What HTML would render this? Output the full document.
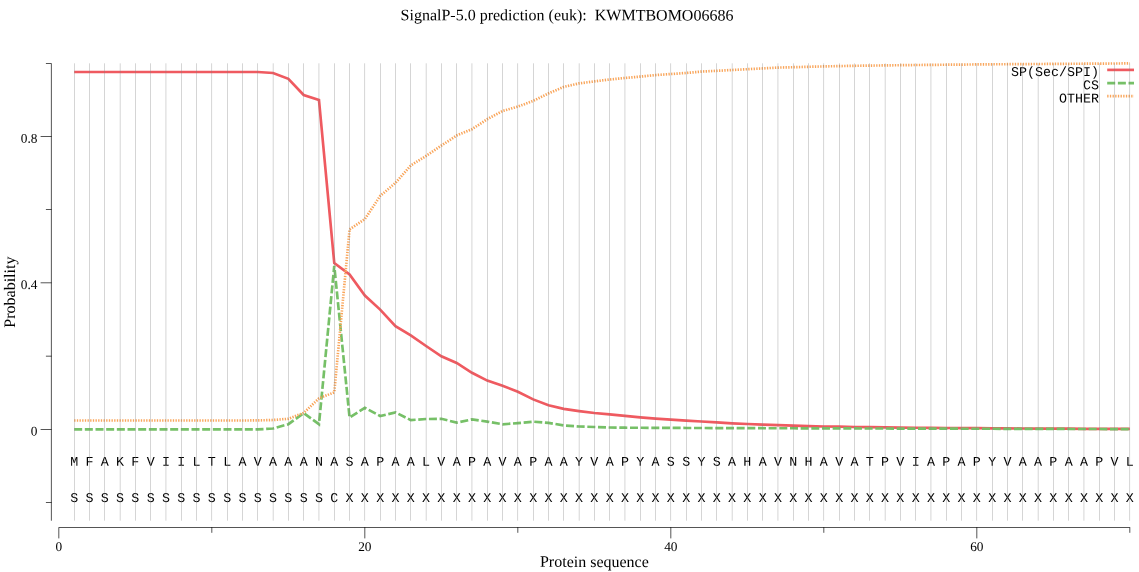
<!DOCTYPE html>
<html lang="en">
<head>
<meta charset="utf-8">
<title>SignalP-5.0 prediction (euk): KWMTBOMO06686</title>
<style>
html,body{margin:0;padding:0;background:#fff;}
body{width:1139px;height:572px;overflow:hidden;}
svg{display:block;will-change:transform;text-rendering:geometricPrecision;}
.serif{font-family:"Liberation Serif","Times New Roman",serif;fill:#000;}
.mono{font-family:"Liberation Mono","Courier New",monospace;fill:#000;}
</style>
</head>
<body>
<svg xmlns="http://www.w3.org/2000/svg" width="1139" height="572" viewBox="0 0 1139 572">
<rect x="0" y="0" width="1139" height="572" fill="#ffffff"/>
<g class="serif" font-size="16" text-anchor="middle" transform="matrix(1,0.0005,0,1,0,0)"><text x="567.00" y="20.067" xml:space="preserve">SignalP-5.0 prediction (euk):  KWMTBOMO06686</text></g>
<g fill="none" stroke-width="2.667" stroke-linejoin="miter" stroke-miterlimit="4">
<path stroke="#ef5a60" d="M74.17,72.00 L89.47,72.00 L104.77,72.00 L120.07,72.00 L135.37,72.00 L150.67,72.00 L165.97,72.00 L181.27,72.00 L196.57,72.00 L211.87,72.00 L227.17,72.00 L242.47,72.00 L257.77,72.00 L273.07,73.00 L288.37,78.80 L303.67,95.00 L318.97,100.00 L334.27,263.10 L349.57,274.50 L364.87,295.50 L380.17,309.60 L395.47,326.10 L410.77,335.30 L426.07,346.00 L441.37,356.30 L456.67,363.00 L471.97,372.80 L487.27,380.60 L502.57,385.70 L517.87,391.80 L533.17,399.40 L548.47,405.20 L563.77,408.90 L579.07,411.10 L594.37,413.00 L609.67,414.30 L624.97,415.90 L640.27,417.40 L655.57,418.60 L670.87,419.60 L686.17,420.60 L701.47,421.50 L716.77,422.30 L732.07,423.30 L747.37,424.00 L762.67,424.70 L777.97,425.20 L793.27,425.70 L808.57,426.20 L823.87,426.50 L839.17,426.70 L854.47,427.00 L869.77,427.20 L885.07,427.40 L900.37,427.60 L915.67,427.75 L930.97,427.90 L946.27,428.00 L961.57,428.10 L976.87,428.20 L992.17,428.30 L1007.47,428.40 L1022.77,428.50 L1038.07,428.60 L1053.37,428.65 L1068.67,428.70 L1083.97,428.80 L1099.27,428.85 L1114.57,428.90 L1129.87,428.95"/>
<path stroke="#76c067" stroke-dasharray="8,2.667" d="M74.17,429.40 L89.47,429.40 L104.77,429.40 L120.07,429.40 L135.37,429.40 L150.67,429.40 L165.97,429.40 L181.27,429.40 L196.57,429.40 L211.87,429.40 L227.17,429.40 L242.47,429.40 L257.77,429.40 L273.07,428.50 L288.37,424.20 L303.67,413.10 L318.97,424.20 L334.27,265.90 L349.57,417.60 L364.87,407.80 L380.17,416.00 L395.47,412.40 L410.77,420.10 L426.07,419.00 L441.37,418.80 L456.67,422.60 L471.97,419.40 L487.27,421.60 L502.57,424.30 L517.87,423.10 L533.17,421.70 L548.47,422.90 L563.77,425.40 L579.07,426.50 L594.37,427.00 L609.67,427.50 L624.97,427.70 L640.27,427.79 L655.57,427.85 L670.87,427.91 L686.17,427.96 L701.47,428.01 L716.77,428.06 L732.07,428.10 L747.37,428.15 L762.67,428.20 L777.97,428.24 L793.27,428.28 L808.57,428.32 L823.87,428.36 L839.17,428.41 L854.47,428.45 L869.77,428.48 L885.07,428.52 L900.37,428.56 L915.67,428.60 L930.97,428.64 L946.27,428.68 L961.57,428.71 L976.87,428.75 L992.17,428.79 L1007.47,428.82 L1022.77,428.86 L1038.07,428.89 L1053.37,428.93 L1068.67,428.96 L1083.97,429.00 L1099.27,429.03 L1114.57,429.07 L1129.87,429.10"/>
<path stroke="#f9a55a" stroke-dasharray="1.333,1.333" d="M74.17,420.50 L89.47,420.50 L104.77,420.50 L120.07,420.50 L135.37,420.50 L150.67,420.50 L165.97,420.50 L181.27,420.50 L196.57,420.50 L211.87,420.50 L227.17,420.50 L242.47,420.50 L257.77,420.40 L273.07,420.00 L288.37,418.80 L303.67,412.90 L318.97,398.40 L334.27,392.30 L349.57,229.40 L364.87,219.10 L380.17,196.00 L395.47,182.80 L410.77,165.40 L426.07,156.00 L441.37,145.60 L456.67,135.50 L471.97,129.20 L487.27,119.20 L502.57,111.00 L517.87,106.60 L533.17,100.90 L548.47,93.40 L563.77,86.90 L579.07,83.40 L594.37,81.40 L609.67,79.50 L624.97,78.00 L640.27,76.60 L655.57,75.10 L670.87,74.00 L686.17,73.00 L701.47,71.60 L716.77,70.80 L732.07,70.00 L747.37,69.20 L762.67,68.40 L777.97,67.60 L793.27,67.20 L808.57,66.80 L823.87,66.40 L839.17,66.10 L854.47,65.80 L869.77,65.60 L885.07,65.40 L900.37,65.20 L915.67,65.00 L930.97,64.90 L946.27,64.70 L961.57,64.60 L976.87,64.40 L992.17,64.30 L1007.47,64.20 L1022.77,64.10 L1038.07,64.00 L1053.37,63.90 L1068.67,63.80 L1083.97,63.70 L1099.27,63.60 L1114.57,63.50 L1129.87,63.40"/>
<path stroke="#ef5a60" d="M1107.2,69.9 H1134"/>
<path stroke="#76c067" stroke-dasharray="8,2.667" d="M1107.2,83.1 H1134"/>
<path stroke="#f9a55a" stroke-dasharray="1.333,1.333" d="M1107.2,96.2 H1134"/>
</g>
<g class="mono" font-size="13.333" text-anchor="end" transform="matrix(1,0.0005,0,1,0,0)">
<text x="1099.00" y="75.451">SP(Sec/SPI)</text>
<text x="1099.00" y="88.781">CS</text>
<text x="1099.00" y="102.050">OTHER</text>
</g>
<g fill="#000" stroke="none">
<rect x="50.916" y="63.733" width="0.667" height="456.967"/>
<rect x="45.900" y="63.066" width="5.684" height="0.667"/>
<rect x="40.600" y="136.067" width="10.983" height="0.667"/>
<rect x="45.900" y="209.267" width="5.684" height="0.667"/>
<rect x="40.600" y="282.526" width="10.983" height="0.667"/>
<rect x="45.900" y="355.786" width="5.684" height="0.667"/>
<rect x="40.600" y="429.066" width="10.983" height="0.667"/>
<rect x="45.900" y="502.216" width="5.684" height="0.667"/>
<rect x="58.536" y="527.117" width="1071.667" height="0.667"/>
<rect x="58.536" y="527.784" width="0.667" height="10.616"/>
<rect x="211.537" y="527.117" width="0.667" height="5.683"/>
<rect x="364.536" y="527.117" width="0.667" height="11.283"/>
<rect x="517.537" y="527.117" width="0.667" height="5.683"/>
<rect x="670.537" y="527.117" width="0.667" height="11.283"/>
<rect x="823.537" y="527.117" width="0.667" height="5.683"/>
<rect x="976.537" y="527.117" width="0.667" height="11.283"/>
<rect x="1129.536" y="527.784" width="0.667" height="5.016"/>
</g>
<g class="serif" font-size="13.333" transform="matrix(1,0.0005,0,1,0,0)">
<text x="37.40" y="142.731" text-anchor="end">0.8</text>
<text x="37.40" y="289.081" text-anchor="end">0.4</text>
<text x="37.40" y="435.381" text-anchor="end">0</text>
<text x="58.87" y="550.971" text-anchor="middle">0</text>
<text x="364.87" y="550.818" text-anchor="middle">20</text>
<text x="670.87" y="550.665" text-anchor="middle">40</text>
<text x="976.87" y="550.512" text-anchor="middle">60</text>
</g>
<g class="serif" font-size="16" text-anchor="middle" transform="matrix(1,0.0005,0,1,0,0)">
<text x="594.40" y="566.603">Protein sequence</text>
<text transform="translate(15.3,292.1) rotate(-90)">Probability</text>
</g>
<g class="mono" font-size="13.333" text-anchor="middle" transform="matrix(1,0.0005,0,1,0,0)">
<text x="74.17" y="465.763">M</text><text x="89.47" y="465.755">F</text><text x="104.77" y="465.748">A</text><text x="120.07" y="465.740">K</text><text x="135.37" y="465.732">F</text><text x="150.67" y="465.725">V</text><text x="165.97" y="465.717">I</text><text x="181.27" y="465.709">I</text><text x="196.57" y="465.702">L</text><text x="211.87" y="465.694">T</text><text x="227.17" y="465.686">L</text><text x="242.47" y="465.679">A</text><text x="257.77" y="465.671">V</text><text x="273.07" y="465.663">A</text><text x="288.37" y="465.656">A</text><text x="303.67" y="465.648">A</text><text x="318.97" y="465.641">N</text><text x="334.27" y="465.633">A</text><text x="349.57" y="465.625">S</text><text x="364.87" y="465.618">A</text><text x="380.17" y="465.610">P</text><text x="395.47" y="465.602">A</text><text x="410.77" y="465.595">A</text><text x="426.07" y="465.587">L</text><text x="441.37" y="465.579">V</text><text x="456.67" y="465.572">A</text><text x="471.97" y="465.564">P</text><text x="487.27" y="465.556">A</text><text x="502.57" y="465.549">V</text><text x="517.87" y="465.541">A</text><text x="533.17" y="465.533">P</text><text x="548.47" y="465.526">A</text><text x="563.77" y="465.518">A</text><text x="579.07" y="465.510">Y</text><text x="594.37" y="465.503">V</text><text x="609.67" y="465.495">A</text><text x="624.97" y="465.488">P</text><text x="640.27" y="465.480">Y</text><text x="655.57" y="465.472">A</text><text x="670.87" y="465.465">S</text><text x="686.17" y="465.457">S</text><text x="701.47" y="465.449">Y</text><text x="716.77" y="465.442">S</text><text x="732.07" y="465.434">A</text><text x="747.37" y="465.426">H</text><text x="762.67" y="465.419">A</text><text x="777.97" y="465.411">V</text><text x="793.27" y="465.403">N</text><text x="808.57" y="465.396">H</text><text x="823.87" y="465.388">A</text><text x="839.17" y="465.380">V</text><text x="854.47" y="465.373">A</text><text x="869.77" y="465.365">T</text><text x="885.07" y="465.357">P</text><text x="900.37" y="465.350">V</text><text x="915.67" y="465.342">I</text><text x="930.97" y="465.335">A</text><text x="946.27" y="465.327">P</text><text x="961.57" y="465.319">A</text><text x="976.87" y="465.312">P</text><text x="992.17" y="465.304">Y</text><text x="1007.47" y="465.296">V</text><text x="1022.77" y="465.289">A</text><text x="1038.07" y="465.281">A</text><text x="1053.37" y="465.273">P</text><text x="1068.67" y="465.266">A</text><text x="1083.97" y="465.258">A</text><text x="1099.27" y="465.250">P</text><text x="1114.57" y="465.243">V</text><text x="1129.87" y="465.235">L</text>
<text x="74.17" y="501.963">S</text><text x="89.47" y="501.955">S</text><text x="104.77" y="501.948">S</text><text x="120.07" y="501.940">S</text><text x="135.37" y="501.932">S</text><text x="150.67" y="501.925">S</text><text x="165.97" y="501.917">S</text><text x="181.27" y="501.909">S</text><text x="196.57" y="501.902">S</text><text x="211.87" y="501.894">S</text><text x="227.17" y="501.886">S</text><text x="242.47" y="501.879">S</text><text x="257.77" y="501.871">S</text><text x="273.07" y="501.863">S</text><text x="288.37" y="501.856">S</text><text x="303.67" y="501.848">S</text><text x="318.97" y="501.841">S</text><text x="334.27" y="501.833">C</text><text x="349.57" y="501.825">X</text><text x="364.87" y="501.818">X</text><text x="380.17" y="501.810">X</text><text x="395.47" y="501.802">X</text><text x="410.77" y="501.795">X</text><text x="426.07" y="501.787">X</text><text x="441.37" y="501.779">X</text><text x="456.67" y="501.772">X</text><text x="471.97" y="501.764">X</text><text x="487.27" y="501.756">X</text><text x="502.57" y="501.749">X</text><text x="517.87" y="501.741">X</text><text x="533.17" y="501.733">X</text><text x="548.47" y="501.726">X</text><text x="563.77" y="501.718">X</text><text x="579.07" y="501.710">X</text><text x="594.37" y="501.703">X</text><text x="609.67" y="501.695">X</text><text x="624.97" y="501.688">X</text><text x="640.27" y="501.680">X</text><text x="655.57" y="501.672">X</text><text x="670.87" y="501.665">X</text><text x="686.17" y="501.657">X</text><text x="701.47" y="501.649">X</text><text x="716.77" y="501.642">X</text><text x="732.07" y="501.634">X</text><text x="747.37" y="501.626">X</text><text x="762.67" y="501.619">X</text><text x="777.97" y="501.611">X</text><text x="793.27" y="501.603">X</text><text x="808.57" y="501.596">X</text><text x="823.87" y="501.588">X</text><text x="839.17" y="501.580">X</text><text x="854.47" y="501.573">X</text><text x="869.77" y="501.565">X</text><text x="885.07" y="501.557">X</text><text x="900.37" y="501.550">X</text><text x="915.67" y="501.542">X</text><text x="930.97" y="501.535">X</text><text x="946.27" y="501.527">X</text><text x="961.57" y="501.519">X</text><text x="976.87" y="501.512">X</text><text x="992.17" y="501.504">X</text><text x="1007.47" y="501.496">X</text><text x="1022.77" y="501.489">X</text><text x="1038.07" y="501.481">X</text><text x="1053.37" y="501.473">X</text><text x="1068.67" y="501.466">X</text><text x="1083.97" y="501.458">X</text><text x="1099.27" y="501.450">X</text><text x="1114.57" y="501.443">X</text><text x="1129.87" y="501.435">X</text>
</g>
<g fill="#808080" stroke="none">
<rect x="74.004" y="63.3" width="0.333" height="457.4"/>
<rect x="89.303" y="63.3" width="0.333" height="457.4"/>
<rect x="104.604" y="63.3" width="0.333" height="457.4"/>
<rect x="119.903" y="63.3" width="0.333" height="457.4"/>
<rect x="135.203" y="63.3" width="0.333" height="457.4"/>
<rect x="150.504" y="63.3" width="0.333" height="457.4"/>
<rect x="165.803" y="63.3" width="0.333" height="457.4"/>
<rect x="181.103" y="63.3" width="0.333" height="457.4"/>
<rect x="196.404" y="63.3" width="0.333" height="457.4"/>
<rect x="211.703" y="63.3" width="0.333" height="457.4"/>
<rect x="227.004" y="63.3" width="0.333" height="457.4"/>
<rect x="242.304" y="63.3" width="0.333" height="457.4"/>
<rect x="257.603" y="63.3" width="0.333" height="457.4"/>
<rect x="272.904" y="63.3" width="0.333" height="457.4"/>
<rect x="288.204" y="63.3" width="0.333" height="457.4"/>
<rect x="303.504" y="63.3" width="0.333" height="457.4"/>
<rect x="318.804" y="63.3" width="0.333" height="457.4"/>
<rect x="334.104" y="63.3" width="0.333" height="457.4"/>
<rect x="349.404" y="63.3" width="0.333" height="457.4"/>
<rect x="364.704" y="63.3" width="0.333" height="457.4"/>
<rect x="380.004" y="63.3" width="0.333" height="457.4"/>
<rect x="395.304" y="63.3" width="0.333" height="457.4"/>
<rect x="410.604" y="63.3" width="0.333" height="457.4"/>
<rect x="425.904" y="63.3" width="0.333" height="457.4"/>
<rect x="441.204" y="63.3" width="0.333" height="457.4"/>
<rect x="456.504" y="63.3" width="0.333" height="457.4"/>
<rect x="471.804" y="63.3" width="0.333" height="457.4"/>
<rect x="487.104" y="63.3" width="0.333" height="457.4"/>
<rect x="502.404" y="63.3" width="0.333" height="457.4"/>
<rect x="517.703" y="63.3" width="0.333" height="457.4"/>
<rect x="533.003" y="63.3" width="0.333" height="457.4"/>
<rect x="548.303" y="63.3" width="0.333" height="457.4"/>
<rect x="563.603" y="63.3" width="0.333" height="457.4"/>
<rect x="578.904" y="63.3" width="0.333" height="457.4"/>
<rect x="594.203" y="63.3" width="0.333" height="457.4"/>
<rect x="609.504" y="63.3" width="0.333" height="457.4"/>
<rect x="624.803" y="63.3" width="0.333" height="457.4"/>
<rect x="640.103" y="63.3" width="0.333" height="457.4"/>
<rect x="655.404" y="63.3" width="0.333" height="457.4"/>
<rect x="670.703" y="63.3" width="0.333" height="457.4"/>
<rect x="686.004" y="63.3" width="0.333" height="457.4"/>
<rect x="701.303" y="63.3" width="0.333" height="457.4"/>
<rect x="716.603" y="63.3" width="0.333" height="457.4"/>
<rect x="731.904" y="63.3" width="0.333" height="457.4"/>
<rect x="747.203" y="63.3" width="0.333" height="457.4"/>
<rect x="762.504" y="63.3" width="0.333" height="457.4"/>
<rect x="777.803" y="63.3" width="0.333" height="457.4"/>
<rect x="793.104" y="63.3" width="0.333" height="457.4"/>
<rect x="808.404" y="63.3" width="0.333" height="457.4"/>
<rect x="823.703" y="63.3" width="0.333" height="457.4"/>
<rect x="839.004" y="63.3" width="0.333" height="457.4"/>
<rect x="854.303" y="63.3" width="0.333" height="457.4"/>
<rect x="869.604" y="63.3" width="0.333" height="457.4"/>
<rect x="884.904" y="63.3" width="0.333" height="457.4"/>
<rect x="900.203" y="63.3" width="0.333" height="457.4"/>
<rect x="915.504" y="63.3" width="0.333" height="457.4"/>
<rect x="930.803" y="63.3" width="0.333" height="457.4"/>
<rect x="946.104" y="63.3" width="0.333" height="457.4"/>
<rect x="961.404" y="63.3" width="0.333" height="457.4"/>
<rect x="976.703" y="63.3" width="0.333" height="457.4"/>
<rect x="992.004" y="63.3" width="0.333" height="457.4"/>
<rect x="1007.303" y="63.3" width="0.333" height="457.4"/>
<rect x="1022.604" y="63.3" width="0.333" height="457.4"/>
<rect x="1037.903" y="63.3" width="0.333" height="457.4"/>
<rect x="1053.203" y="63.3" width="0.333" height="457.4"/>
<rect x="1068.504" y="63.3" width="0.333" height="457.4"/>
<rect x="1083.803" y="63.3" width="0.333" height="457.4"/>
<rect x="1099.103" y="63.3" width="0.333" height="457.4"/>
<rect x="1114.403" y="63.3" width="0.333" height="457.4"/>
<rect x="1129.703" y="63.3" width="0.333" height="457.4"/>
</g>
</svg>
</body>
</html>
